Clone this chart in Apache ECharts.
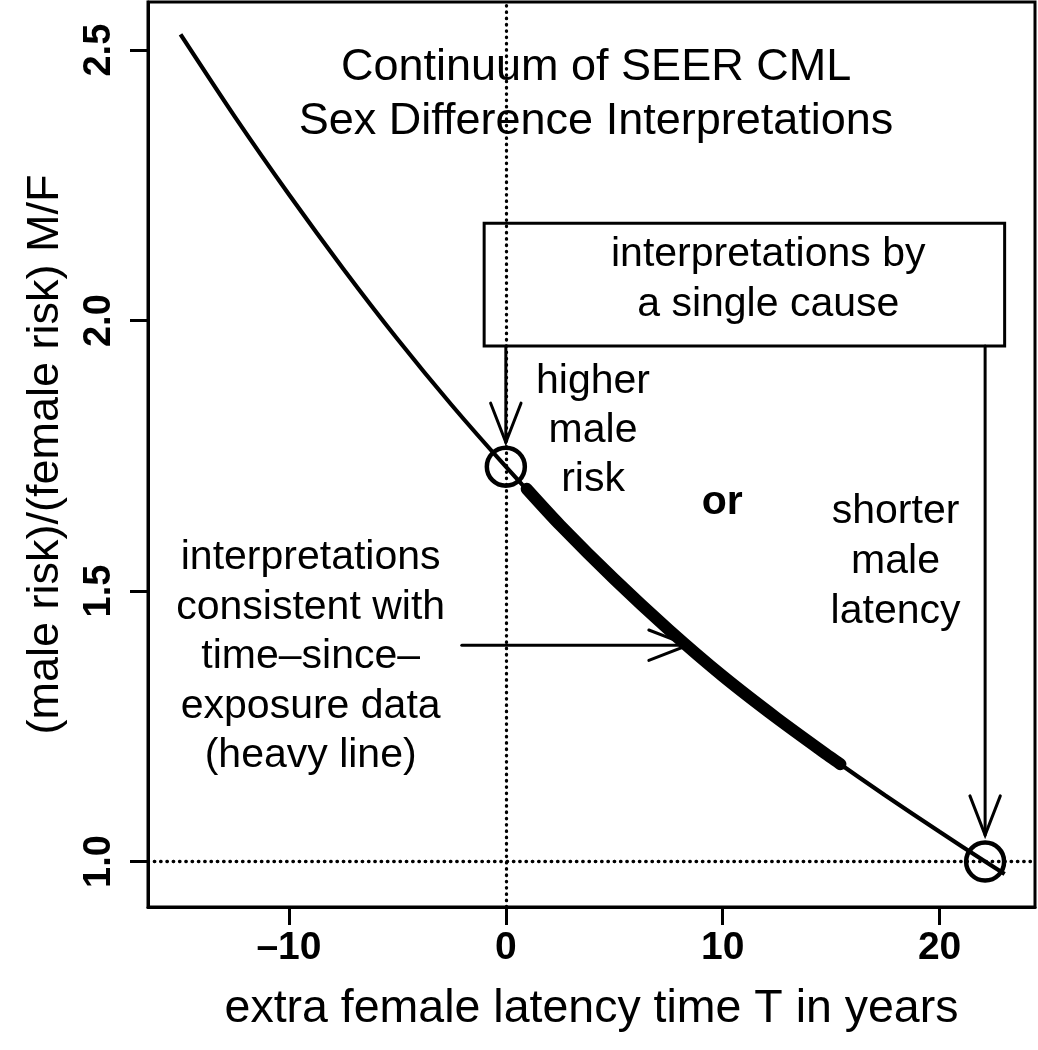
<!DOCTYPE html>
<html><head><meta charset="utf-8">
<script src="https://cdn.jsdelivr.net/npm/echarts@6/dist/echarts.min.js"></script>
<style>html,body{margin:0;padding:0;background:#fff}#c{width:1038px;height:1050px}</style>
</head><body><div id="c"></div>
<script>
// ---- data ----
const curveT     = [-15, -12.5, -10, -7.5, -5, -2.5, 0, 2.5, 5, 7.5, 10, 12.5, 15, 17.5, 20, 22.1, 23];
const curveRatio = [2.529, 2.377, 2.233, 2.096, 1.966, 1.844, 1.730, 1.622, 1.522, 1.429, 1.343, 1.265, 1.192, 1.122, 1.055, 1.0, 0.977];
const heavyT     = [0.96, 2.5, 5, 7.5, 10, 12.5, 15, 15.43];
const heavyRatio = [1.689, 1.622, 1.522, 1.429, 1.343, 1.265, 1.192, 1.180];
const circleT     = [0, 22.1];
const circleRatio = [1.73, 1.0];
const xTicks = [-10, 0, 10, 20];
const yTicks = [1.0, 1.5, 2.0, 2.5];
const refX = 0, refY = 1.0;
const boxRect = [-1, 2.18, 23, 1.953];           // x0, yTop, x1, yBottom
const arrows = [[0, 1.953, 0, 1.775], [22.1, 1.953, 22.1, 1.049], [-2.03, 1.4, 8.4, 1.4]];
const noteText = [
  'Continuum of SEER CML\nSex Difference Interpretations',
  'interpretations by\na single cause',
  'higher\nmale\nrisk',
  'or',
  'shorter\nmale\nlatency',
  'interpretations\nconsistent with\ntime\u2013since\u2013\nexposure data\n(heavy line)'
];
const noteT     = [4.16, 12.1, 4.02, 9.98, 17.97, -9.0];
const noteRatio = [2.417, 2.075, 1.796, 1.663, 1.555, 1.378];
const noteBold  = [false, false, false, true, false, false];
const noteSize  = [45, 41, 41, 41, 41, 41];
const noteLH    = [54, 50, 49, 49, 50, 49.5];
const xTitle = 'extra female latency time T in years';
const yTitle = '(male risk)/(female risk) M/F';

const FONT = '"Liberation Sans", Arial, Helvetica, sans-serif';
const chart = echarts.init(document.getElementById('c'), null, {renderer: 'canvas'});

const option = {
  animation: false,
  backgroundColor: '#fff',
  grid: {left: 148, right: 3, top: 2, bottom: 143, show: true, borderColor: '#000', borderWidth: 3, backgroundColor: 'transparent'},
  xAxis: {
    type: 'value', min: -16.5, max: 24.4,
    name: xTitle, nameLocation: 'middle', nameGap: 79,
    nameTextStyle: {fontSize: 46.5, fontFamily: FONT, color: '#000'},
    axisLine: {show: true, onZero: false, lineStyle: {color: '#000', width: 3}},
    axisTick: {show: true, length: 18, lineStyle: {color: '#000', width: 3}, customValues: xTicks},
    axisLabel: {customValues: xTicks, margin: 22, fontSize: 39, fontWeight: 'bold', fontFamily: FONT, color: '#000',
      formatter: v => (v < 0 ? '\u2013' + Math.abs(v) : String(v))},
    splitLine: {show: false}
  },
  yAxis: {
    type: 'value', min: 0.916, max: 2.589,
    name: yTitle, nameLocation: 'middle', nameGap: 80, nameRotate: 90,
    nameTextStyle: {fontSize: 45, fontFamily: FONT, color: '#000'},
    axisLine: {show: true, onZero: false, lineStyle: {color: '#000', width: 3}},
    axisTick: {show: true, length: 18, lineStyle: {color: '#000', width: 3}, customValues: yTicks},
    axisLabel: {customValues: yTicks, rotate: 90, margin: 29, fontSize: 38, fontWeight: 'bold', fontFamily: FONT, color: '#000',
      formatter: v => Number(v).toFixed(1)},
    splitLine: {show: false}
  },
  series: [
    {
      type: 'line', name: 'curve', data: curveT.map((t, i) => [t, curveRatio[i]]),
      smooth: 0.25, symbol: 'none', lineStyle: {color: '#000', width: 4.2}, z: 3,
      markLine: {
        silent: true, symbol: ['none', 'none'], label: {show: false},
        lineStyle: {color: '#000', width: 3.3, type: [0.5, 5.8], cap: 'round'},
        data: [{xAxis: refX}, {yAxis: refY}]
      }
    },
    {
      type: 'line', name: 'heavy', data: heavyT.map((t, i) => [t, heavyRatio[i]]),
      smooth: 0.25, symbol: 'none', lineStyle: {color: '#000', width: 12, cap: 'round'}, z: 4
    },
    {
      type: 'scatter', name: 'circles', data: circleT.map((t, i) => [t, circleRatio[i]]),
      symbol: 'circle', symbolSize: 38,
      itemStyle: {color: 'rgba(255,255,255,0)', borderColor: '#000', borderWidth: 4.5, opacity: 1}, z: 5
    },
    {
      type: 'custom', name: 'box', data: [boxRect],
      renderItem: (params, api) => {
        const p0 = api.coord([api.value(0), api.value(1)]);
        const p1 = api.coord([api.value(2), api.value(3)]);
        return {type: 'rect', shape: {x: p0[0], y: p0[1], width: p1[0] - p0[0], height: p1[1] - p0[1]},
          style: {fill: '#fff', stroke: '#000', lineWidth: 3}};
      }, z: 2
    },
    {
      type: 'custom', name: 'arrows', data: arrows,
      renderItem: (params, api) => {
        const a = api.coord([api.value(0), api.value(1)]);
        const b = api.coord([api.value(2), api.value(3)]);
        const ang = Math.atan2(b[1] - a[1], b[0] - a[0]);
        const L = 42, w = 0.37;
        const w1 = [b[0] - L * Math.cos(ang - w), b[1] - L * Math.sin(ang - w)];
        const w2 = [b[0] - L * Math.cos(ang + w), b[1] - L * Math.sin(ang + w)];
        const st = {stroke: '#000', lineWidth: 3, lineCap: 'round'};
        return {type: 'group', children: [
          {type: 'line', shape: {x1: a[0], y1: a[1], x2: b[0], y2: b[1]}, style: st},
          {type: 'polyline', shape: {points: [w1, b, w2]}, style: Object.assign({fill: null}, st)}
        ]};
      }, z: 6
    },
    {
      type: 'custom', name: 'notes', data: noteT.map((t, i) => [t, noteRatio[i], i]),
      renderItem: (params, api) => {
        const i = api.value(2);
        const p = api.coord([api.value(0), api.value(1)]);
        return {type: 'text', x: p[0], y: p[1], style: {
          text: noteText[i], fontSize: noteSize[i], fontFamily: FONT,
          fontWeight: noteBold[i] ? 'bold' : 'normal', fill: '#000',
          align: 'center', verticalAlign: 'middle', lineHeight: noteLH[i]}};
      }, z: 7
    }
  ]
};
chart.setOption(option);
</script>
</body></html>
